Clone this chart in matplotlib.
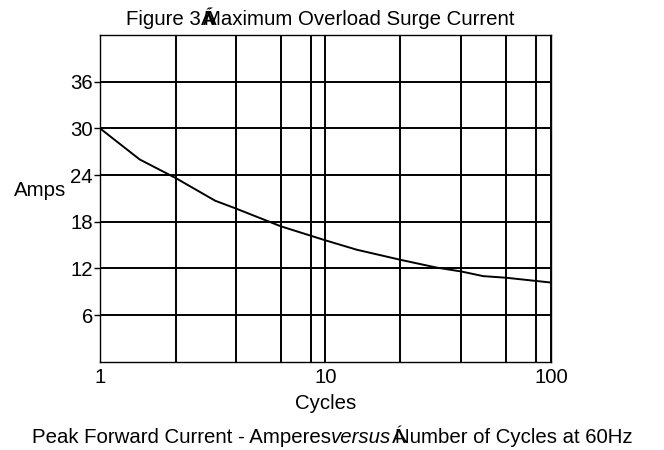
import matplotlib
matplotlib.use("Agg")
import matplotlib.pyplot as plt
from matplotlib.ticker import NullFormatter

plt.rcParams["font.family"] = ["Liberation Sans", "DejaVu Sans"]

# curve (cycles, amps)
cycles = [1, 1.5, 2.17, 3.24, 4, 6.35, 10, 13.75, 21.5, 31.1, 40, 50.1, 63, 98.3]
amps = [30.0, 26.0, 23.6, 20.7, 19.7, 17.4, 15.6, 14.4, 13.1, 12.1, 11.6, 11.0, 10.8, 10.2]

x_major = [1, 10, 100]
x_major_labels = ["1", "10", "100"]
x_minor = [2.17, 4, 6.35, 8.63, 21.5, 40, 63.2, 85.7]
y_ticks = [6, 12, 18, 24, 30, 36]

# (text, style, advance in px or None for natural width)
title_parts = [("Figure 3", "normal", None), ("Á", "normal", 2), ("Á", "normal", 1),
               ("Maximum Overload Surge Current", "normal", None)]
caption_parts = [("Peak Forward Current - Amperes", "normal", None), ("versus", "italic", None),
                 ("Á", "normal", 4), ("Number of Cycles at 60Hz", "normal", None)]

FS = 14.7
W = 664


def draw_run(fig, y, parts, xc):
    """Lay text pieces side by side (some overlapping) centred at xc."""
    r = fig.canvas.get_renderer()
    objs, offs, x = [], [], 0.0
    for s, style, adv in parts:
        t = fig.text(0, y, s, ha="left", va="baseline", fontsize=FS, style=style)
        w = t.get_window_extent(r).width
        objs.append(t)
        offs.append(x)
        x += w if adv is None else adv
    start = xc * W - x / 2
    for t, o in zip(objs, offs):
        t.set_x((start + o) / W)


fig = plt.figure(figsize=(6.64, 4.5), dpi=100)
ax = fig.add_axes([0.1506, 0.1962, 0.6792, 0.726])

ax.plot(cycles, amps, color="black", linewidth=1.4)

ax.set_xscale("log")
ax.set_xlim(1, 100)
ax.set_ylim(0, 42)
ax.set_xticks(x_major)
ax.set_xticklabels(x_major_labels)
ax.set_xticks(x_minor, minor=True)
ax.xaxis.set_minor_formatter(NullFormatter())
ax.set_yticks(y_ticks)

ax.grid(True, which="both", color="black", linewidth=1.4)
ax.set_axisbelow(True)
for s in ax.spines.values():
    s.set_linewidth(1.0)

ax.tick_params(axis="x", which="both", length=0, pad=4.5, labelsize=FS)
ax.tick_params(axis="y", length=4, width=1.0, pad=1, labelsize=FS)

ax.set_xlabel("Cycles", fontsize=FS, labelpad=5)
ax.set_ylabel("Amps", fontsize=FS, rotation=0, ha="center", va="center")
ax.yaxis.set_label_coords(-0.133, 0.525)

draw_run(fig, 0.944, title_parts, 0.482)
draw_run(fig, 0.0145, caption_parts, 0.501)

fig.savefig("out.png", dpi=100)
